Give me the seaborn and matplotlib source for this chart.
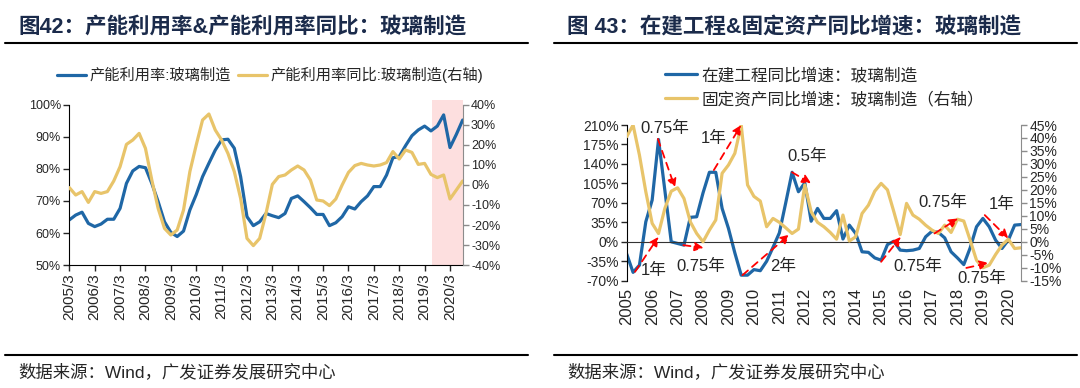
import numpy as np
import matplotlib
matplotlib.use('Agg')
import matplotlib.pyplot as plt
from matplotlib.lines import Line2D
from matplotlib.ticker import FuncFormatter
import seaborn as sns

# ---- data (quarterly, 2005Q1 .. 2020Q3) ----
left_ticks = ['2005/3', '2006/3', '2007/3', '2008/3', '2009/3', '2010/3', '2011/3', '2012/3',
              '2013/3', '2014/3', '2015/3', '2016/3', '2017/3', '2018/3', '2019/3', '2020/3']

# 产能利用率:玻璃制造 (%)
cap_util = [64.1, 65.6, 66.5, 63.0, 62.0, 62.8, 64.3, 64.3, 67.7, 75.5, 79.4, 80.8, 80.4,
            75.5, 69.8, 63.5, 60.2, 58.9, 60.6, 67.2, 72.0, 77.6, 81.8, 85.9, 89.1, 89.3,
            86.5, 77.6, 65.1, 62.3, 63.5, 66.1, 65.4, 64.8, 66.1, 70.8, 71.6, 69.8, 67.9,
            65.8, 65.8, 62.3, 63.2, 65.1, 68.2, 67.5, 69.8, 71.6, 74.5, 74.5, 78.1, 83.5,
            83.9, 87.3, 90.4, 92.2, 93.4, 91.9, 93.4, 96.9, 86.7, 90.8, 95.3]

# 产能利用率同比:玻璃制造 (%, right axis)
cap_util_yoy = [-1.3, -5.0, -3.3, -8.7, -3.3, -4.2, -3.3, 2.0, 9.2, 20.3, 22.5, 25.8, 18.3,
                2.5, -11.7, -21.7, -25.0, -22.5, -12.5, 6.7, 20.0, 32.5, 35.5, 27.5, 22.5,
                15.8, 6.7, -6.7, -26.7, -30.3, -26.7, -14.2, 0.3, 4.2, 5.0, 7.5, 9.5, 7.5,
                2.5, -7.5, -8.0, -10.3, -7.0, 0.0, 6.3, 9.7, 10.8, 10.0, 9.5, 10.0, 11.2,
                16.7, 13.0, 17.5, 16.3, 10.3, 10.8, 5.3, 3.7, 5.0, -7.0, -2.5, 2.0]

right_ticks = ['2005', '2006', '2007', '2008', '2009', '2010', '2011', '2012',
               '2013', '2014', '2015', '2016', '2017', '2018', '2019', '2020']

# 在建工程同比增速:玻璃制造 (%)
cip_yoy = [-22, -55, -42, 36, 75, 184, 92, 0, -3, -6, 44, 45, 88, 125, 125, 60, 24, -20,
           -60, -60, -50, -52, -35, -10, 16, 70, 125, 90, 106, 37, 60, 42, 42, 56, 5, 30,
           15, -18, -19, -29, -33, -5, 1, -15, -16, -15, -12, 9, 19, 17, 7, -18, -29, -41,
           -11, 27, 42, 27, 3, -12, 3, 30, 31]

# 固定资产同比增速:玻璃制造 (%, right axis)
fai_yoy = [40.5, 45.0, 33.4, 19.3, 7.1, 3.2, 12.9, 19.5, 20.8, 16.7, 7.7, 3.2, 0.0, 4.5,
           8.4, 26.4, 29.6, 34.1, 45.0, 21.9, 17.5, 15.7, 5.8, 9.0, 7.5, 5.4, 3.2, 4.9,
           21.9, 11.6, 7.5, 5.8, 3.6, 1.0, 10.3, 0.3, 1.9, 10.9, 14.1, 19.5, 22.5, 20.0,
           11.6, 2.8, 14.8, 10.3, 8.7, 6.4, 4.5, 3.2, 6.4, 3.6, 8.7, 8.0, 0.6, -7.1, -10.0,
           -9.0, -4.9, -1.3, 1.0, -2.6, -2.3]

# lead/lag arrows on the right chart: (label, text pos, arrow start, arrow end) in left-axis units
lags = [
    ('0.75年', (6.0, 203), (4.9, 185), (7.6, 97)),
    ('1年', (4.3, -51), (1.3, -54), (5.0, 9)),
    ('0.75年', (11.7, -45), (8.9, -6), (12.1, -11)),
    ('1年', (13.7, 186), (13.7, 129), (18.0, 210)),
    ('0.5年', (28.3, 153), (26.0, 125), (29.0, 105)),
    ('2年', (24.6, -45), (18.2, -60), (25.6, 13)),
    ('0.75年', (45.7, -45), (40.0, -36), (43.1, 9)),
    ('0.75年', (49.7, 71), (48.4, 15), (52.1, 42)),
    ('1年', (59.0, 67), (56.3, 48), (60.0, 6)),
    ('0.75年', (55.8, -66), (53.4, -47), (56.9, -38)),
]

sns.set_style('white')
plt.rcParams['font.family'] = ['Liberation Sans', 'Noto Sans CJK SC']
plt.rcParams['axes.unicode_minus'] = False

BLUE = '#1F67A6'
GOLD = '#E8C46A'
NAVY = '#1B2B4B'
GREY = '#8C8C8C'
TXT = '#262626'

pct = FuncFormatter(lambda v, p: f'{v:.0f}%')
q = np.arange(len(cap_util))

fig = plt.figure(figsize=(10.8, 3.88), dpi=100)

# ================= left chart =================
ax = fig.add_axes([0.0642, 0.3170, 0.3642, 0.4124])
axr = ax.twinx()
ax.axvspan(57.1, 62, ymin=0, ymax=1.03, color='#FDDFDF', lw=0, zorder=0, clip_on=False)
sns.lineplot(x=q, y=cap_util, ax=ax, color=BLUE, lw=2.3, legend=False)
sns.lineplot(x=q, y=cap_util_yoy, ax=axr, color=GOLD, lw=2.3, legend=False)

ax.set_xlim(0, 62)
ax.set_ylim(50, 100)
ax.set_yticks(range(50, 101, 10))
axr.set_ylim(-40, 40)
axr.set_yticks(range(-40, 41, 10))
ax.yaxis.set_major_formatter(pct)
axr.yaxis.set_major_formatter(pct)
ax.set_xticks(q[::4], left_ticks, rotation=90)
for a in (ax, axr):
    a.set_xlabel('')
    a.set_ylabel('')
    a.spines['top'].set_visible(False)
ax.spines['right'].set_visible(False)
axr.spines['left'].set_visible(False)
axr.spines['bottom'].set_visible(False)
axr.spines['right'].set_color(GREY)
ax.spines['left'].set_color('black')
ax.spines['bottom'].set_color('black')
ax.tick_params(axis='y', direction='out', length=4, width=1, pad=2, labelsize=9,
               labelcolor=TXT, left=True)
ax.tick_params(axis='x', direction='out', length=4, width=1, pad=2, labelsize=11,
               labelcolor=TXT, bottom=True)
axr.tick_params(axis='y', direction='out', length=4, width=1, color=GREY, pad=2,
                labelsize=9, labelcolor=TXT)

fig.legend([Line2D([], [], color=BLUE, lw=2.3), Line2D([], [], color=GOLD, lw=2.3)],
           ['产能利用率:玻璃制造', '产能利用率同比:玻璃制造(右轴)'],
           loc='center', bbox_to_anchor=(270 / 1080, 1 - 75 / 388), ncol=2, frameon=False,
           fontsize=11, handlelength=1.9, handletextpad=0.2, columnspacing=0.5)

# ================= right chart =================
bx = fig.add_axes([0.5803, 0.2765, 0.3651, 0.4013])
bxr = bx.twinx()
sns.lineplot(x=q, y=cip_yoy, ax=bx, color=BLUE, lw=2.3, legend=False)
sns.lineplot(x=q, y=fai_yoy, ax=bxr, color=GOLD, lw=2.3, legend=False)

bx.set_xlim(0, 62)
bx.set_ylim(-70, 210)
bx.set_yticks(range(-70, 211, 35))
bxr.set_ylim(-15, 45)
bxr.set_yticks(range(-15, 46, 5))
bx.yaxis.set_major_formatter(pct)
bxr.yaxis.set_major_formatter(pct)
for a in (bx, bxr):
    a.set_xlabel('')
    a.set_ylabel('')
    a.spines['top'].set_visible(False)
bx.spines['right'].set_visible(False)
bxr.spines['left'].set_visible(False)
bxr.spines['bottom'].set_visible(False)
bxr.spines['right'].set_color(GREY)
bx.spines['left'].set_color('black')
bx.spines['bottom'].set_color('#333333')
bx.spines['bottom'].set_position(('data', 0))
bx.set_xticks(q[::4])
bx.tick_params(axis='x', direction='out', length=3, width=1, labelbottom=False)
bx.tick_params(axis='y', direction='out', length=4, width=1, pad=2, labelsize=10,
               labelcolor=TXT, left=True)
bxr.tick_params(axis='y', direction='out', length=4, width=1, color=GREY, pad=2,
                labelsize=10, labelcolor=TXT)
sec = bx.secondary_xaxis('bottom')
sec.set_xticks(q[::4], right_ticks, rotation=90)
sec.tick_params(length=0, pad=5, labelsize=12, labelcolor=TXT)
sec.spines['bottom'].set_visible(False)

for label, tpos, start, end in lags:
    bxr.annotate('', xy=end, xytext=start, xycoords=bx.transData, textcoords=bx.transData,
                 arrowprops=dict(arrowstyle='-|>', color='red', lw=1.3, ls=(0, (4, 3)),
                                 mutation_scale=13, shrinkA=0, shrinkB=0))
    bxr.text(tpos[0], tpos[1], label, transform=bx.transData, ha='center', va='center',
             fontsize=12, color=TXT)

fig.legend([Line2D([], [], color=BLUE, lw=2.3), Line2D([], [], color=GOLD, lw=2.3)],
           ['在建工程同比增速：玻璃制造', '固定资产同比增速：玻璃制造（右轴）'],
           loc='upper left', bbox_to_anchor=(650 / 1080, 1 - 52 / 388), ncol=1, frameon=False,
           fontsize=12, handlelength=1.9, handletextpad=0.3, labelspacing=0.5)

# ================= titles, rules, sources =================
fig.text(18 / 1080, 1 - 27 / 388, '图42：产能利用率&产能利用率同比：玻璃制造',
         fontsize=15.5, fontweight='bold', color=NAVY, va='center')
fig.text(567 / 1080, 1 - 27 / 388, '图 43：在建工程&固定资产同比增速：玻璃制造',
         fontsize=15.5, fontweight='bold', color=NAVY, va='center')
for x0, x1 in [(5, 528), (554, 1077)]:
    fig.add_artist(Line2D([x0 / 1080, x1 / 1080], [1 - 43 / 388] * 2, color='black', lw=1.5))
    fig.add_artist(Line2D([x0 / 1080, x1 / 1080], [1 - 355 / 388] * 2, color='black', lw=1.5))
for x0 in (18, 567):
    fig.text(x0 / 1080, 1 - 372 / 388, '数据来源：Wind，广发证券发展研究中心',
             fontsize=12.5, color=TXT, va='center')

fig.savefig('out.png', dpi=100)
